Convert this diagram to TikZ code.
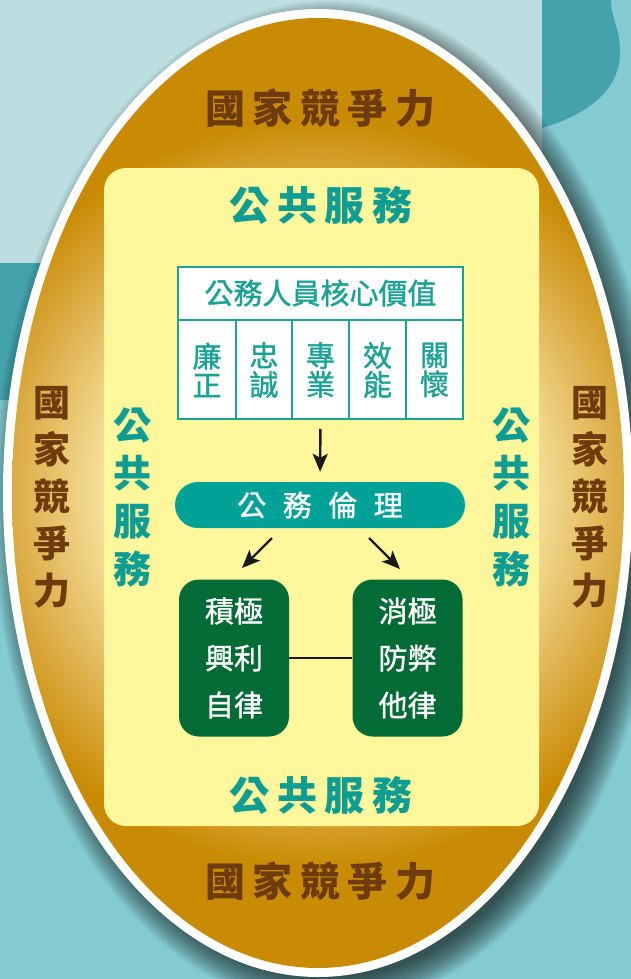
\documentclass[tikz,border=0pt]{standalone}
\usepackage{fontspec}
\newfontfamily\cjk{Noto Sans CJK TC}
\newfontfamily\cjkm{Noto Sans CJK TC}[FakeBold=1.2]
\usetikzlibrary{arrows.meta}
\definecolor{bglight}{HTML}{BCDEE1}
\definecolor{bgteal}{HTML}{84CBD1}
\definecolor{bgdark}{HTML}{43A2AC}
\definecolor{goldpale}{HTML}{F6E29E}
\definecolor{goldmid}{HTML}{E0B555}
\definecolor{golddark}{HTML}{C98B03}
\definecolor{paleyellow}{HTML}{FEF79C}
\definecolor{brownink}{HTML}{6E3C0C}
\definecolor{tealink}{HTML}{0E9D93}
\definecolor{coreteal}{HTML}{1AA295}
\definecolor{pillteal}{HTML}{00A298}
\definecolor{boxgreen}{HTML}{036B36}
\definecolor{arrowink}{HTML}{1A1A1A}
\pgfdeclareradialshading{eggglow}{\pgfpoint{0bp}{0bp}}{color(0bp)=(goldpale); color(11bp)=(goldpale); color(15bp)=(goldmid); color(19.5bp)=(golddark); color(25bp)=(golddark); color(50bp)=(golddark)}
\newcommand\tgap{\hspace{7.5pt}}
\newcommand\pgap{\hspace{16.5pt}}
\begin{document}
\begin{tikzpicture}[x=1pt,y=-1pt,
  brownt/.style={text=brownink, font=\cjk\bfseries\fontsize{40}{40}\selectfont, inner sep=0pt},
  tealt/.style={text=tealink, font=\cjk\bfseries\fontsize{40}{40}\selectfont, inner sep=0pt},
  vbrown/.style={text=brownink, font=\cjk\bfseries\fontsize{37}{47}\selectfont, inner sep=0pt, align=center},
  vteal/.style={text=tealink, font=\cjk\bfseries\fontsize{38}{48}\selectfont, inner sep=0pt, align=center},
  corebox/.style={draw=coreteal, line width=2pt, fill=white, minimum width=285pt, minimum height=152pt, inner sep=0pt},
  coreline/.style={draw=coreteal, line width=2pt},
  coretext/.style={text=coreteal, font=\cjkm\fontsize{29}{29}\selectfont, inner sep=0pt, align=center},
  pill/.style={fill=pillteal, rounded corners=23pt, minimum width=290pt, minimum height=46pt, text=white, font=\cjkm\fontsize{29}{29}\selectfont, inner sep=0pt},
  gbox/.style={fill=boxgreen, rounded corners=20pt, minimum width=110pt, minimum height=157pt, text=white, align=center, font=\cjkm\fontsize{29}{47}\selectfont, inner sep=0pt},
  arr/.style={draw=arrowink, line width=2.4pt, -{Stealth[length=18pt, width=15pt, inset=4pt]}},
  link/.style={draw=arrowink, line width=2.4pt}]
\useasboundingbox (0,0) rectangle (631,979);
% background
\fill[bgteal] (0,0) rectangle (631,979);
\fill[bglight] (0,0) rectangle (542,263);
\fill[bgdark] (0,263) rectangle (320,400);
\fill[bgdark] (542,0) -- (611,0) .. controls (611,18) and (620,28) .. (620,52) .. controls (620,92) and (585,115) .. (542,128) -- cycle;
% shadow
\foreach \i in {0,...,15} {
  \fill[black, opacity=0.05] (328,505) ellipse [x radius={335-2*\i}, y radius={504-2*\i}];
}
% egg
\fill[white] (318,493) ellipse [x radius=315, y radius=484];
\begin{scope}
  \clip (318,493) ellipse [x radius=306, y radius=475];
  \shade[shading=eggglow] (318,493) circle [radius=480];
\end{scope}
% yellow panel
\fill[paleyellow, rounded corners=22pt] (104,168) rectangle (539,826);
% outer texts
\node[brownt] (ttop) at (320,108) {國\tgap 家\tgap 競\tgap 爭\tgap 力};
\node[brownt] (tbot) at (320,881) {國\tgap 家\tgap 競\tgap 爭\tgap 力};
\node[vbrown] (tleft) at (52,497) {國\\家\\競\\爭\\力};
\node[vbrown] (tright) at (590,497) {國\\家\\競\\爭\\力};
\node[tealt] (stop) at (321,205) {公\tgap 共\tgap 服\tgap 務};
\node[tealt] (sbot) at (321,795) {公\tgap 共\tgap 服\tgap 務};
\node[vteal] (sleft) at (132,497) {公\\共\\服\\務};
\node[vteal] (sright) at (511,497) {公\\共\\服\\務};
% core values box
\node[corebox] (core) at (320.5,343) {};
\draw[coreline] (178,320) -- (463,320);
\draw[coreline] (236,320) -- (236,419);
\draw[coreline] (292,320) -- (292,419);
\draw[coreline] (349,320) -- (349,419);
\draw[coreline] (406,320) -- (406,419);
\node[coretext] (ctitle) at (320.5,293) {公務人員核心價值};
\node[coretext] (c1) at (207,370) {廉\\正};
\node[coretext] (c2) at (264,370) {忠\\誠};
\node[coretext] (c3) at (320.5,370) {專\\業};
\node[coretext] (c4) at (377.5,370) {效\\能};
\node[coretext] (c5) at (434.5,370) {關\\懷};
% ethics pill
\node[pill] (ethics) at (320,505) {公\pgap 務\pgap 倫\pgap 理};
% green boxes
\node[gbox] (pos) at (234,658) {積極\\興利\\自律};
\node[gbox] (neg) at (407.5,658) {消極\\防弊\\他律};
% connectors
\draw[arr, shorten <=9pt, shorten >=10pt] (core.south) -- (ethics.north);
\coordinate (la) at (272,538);
\coordinate (lb) at (242,568);
\coordinate (ra) at (369,538);
\coordinate (rb) at (400,569);
\draw[arr] (la) -- (lb);
\draw[arr] (ra) -- (rb);
\draw[link] (pos.east) -- (neg.west);
\end{tikzpicture}
\end{document}
